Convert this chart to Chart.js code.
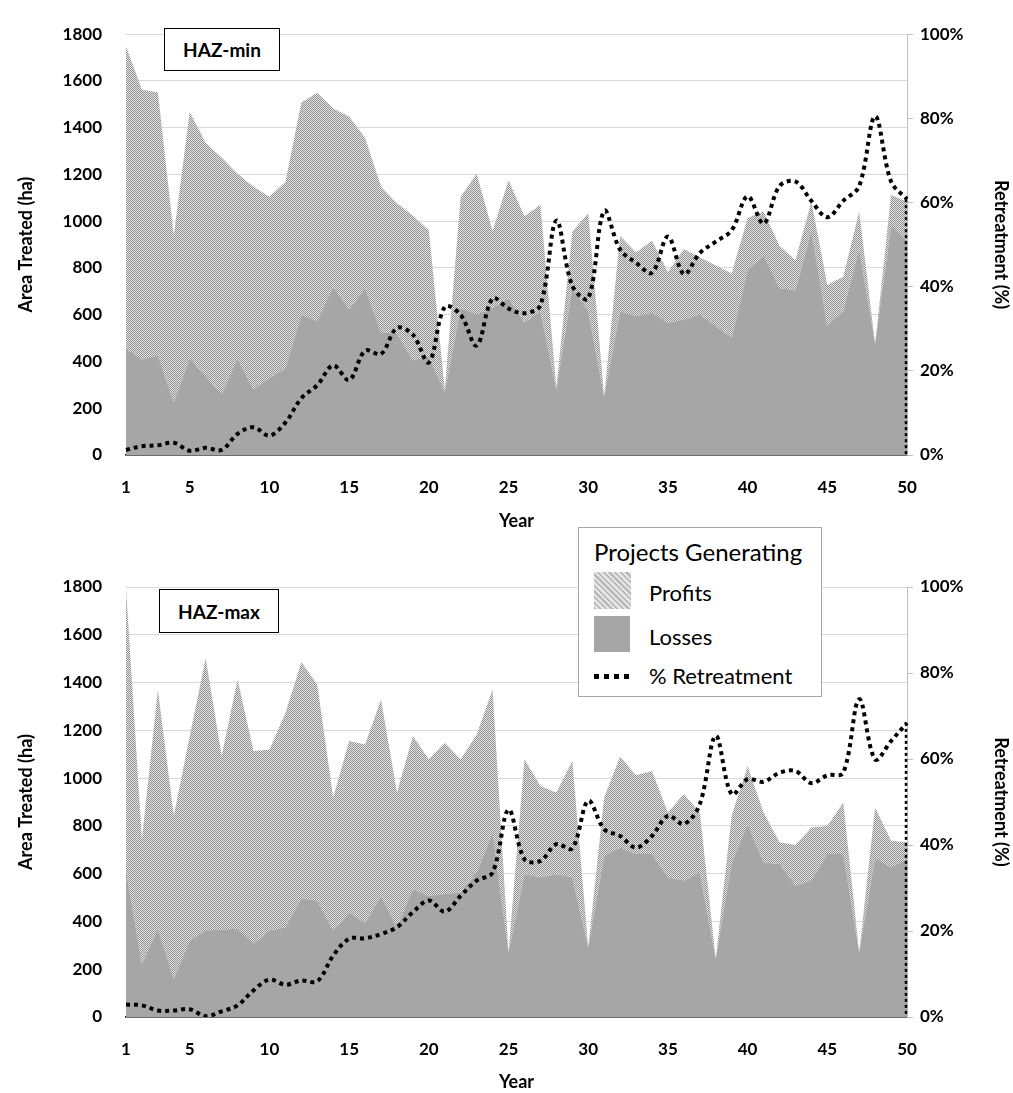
<!DOCTYPE html>
<html>
<head>
<meta charset="utf-8">
<script src="https://cdn.jsdelivr.net/npm/chart.js@4/dist/chart.umd.min.js"></script>
<style>
  body { margin: 0; background: #fff; font-family: Lato, sans-serif; overflow: hidden; }
  #wrap { position: relative; width: 1013px; height: 1093px; }
  canvas { position: absolute; left: 0; }
  .haz { position: absolute; border: 1.5px solid #000; background: #fff; font-weight: bold; font-size: 19px;
         display: flex; align-items: center; justify-content: center; box-sizing: border-box; }
  #legend { position: absolute; left: 578px; top: 527px; width: 244px; height: 170px; box-sizing: border-box;
            border: 1.5px solid #a6a6a6; background: #fff; }
  #legend div { position: absolute; white-space: nowrap; }
  .lbl { font-size: 22px; line-height: 26px; color: #000; }
</style>
</head>
<body>
<div id="wrap">
  <canvas id="chartMin" width="1013" height="540" style="top:0"></canvas>
  <canvas id="chartMax" width="1013" height="553" style="top:540px"></canvas>
  <div class="haz" style="left:164px; top:28px; width:116px; height:43px;">HAZ-min</div>
  <div class="haz" style="left:159px; top:589px; width:120px; height:44px;">HAZ-max</div>
  <div id="legend">
    <div style="left:15px; top:9px; font-size:24px; line-height:30px;">Projects Generating</div>
    <div style="left:15px; top:44px; width:37px; height:37px; background:repeating-linear-gradient(45deg, #b5b5b5 0 1.5px, #e4e4e4 1.5px 4px);"></div>
    <div class="lbl" style="left:70px; top:52px;">Profits</div>
    <div style="left:15px; top:88px; width:36px; height:36px; background:#a6a6a6;"></div>
    <div class="lbl" style="left:70px; top:96px;">Losses</div>
    <div style="left:15px; top:146px; width:37px; height:5px; background:repeating-linear-gradient(90deg, #000 0 5px, transparent 5px 10px);"></div>
    <div class="lbl" style="left:70px; top:135px;">% Retreatment</div>
  </div>
</div>
<script>
const years = Array.from({length: 50}, (_, i) => String(i + 1));
const areaTicks = [0, 200, 400, 600, 800, 1000, 1200, 1400, 1600, 1800];
const pctTicks = [0, 20, 40, 60, 80, 100];

// HAZ-min (ha, ha, %)
const minLosses = [455,408,427,227,413,336,259,413,280,329,371,599,573,720,622,713,524,520,405,420,
                   270,629,601,629,671,566,615,280,713,615,250,615,594,608,566,580,601,552,503,790,
                   853,713,706,958,552,615,881,476,979,916];
const minProfits = [1293,1154,1125,713,1055,999,1014,790,867,776,797,909,977,762,826,644,623,557,619,540,
                    10,476,602,329,504,455,455,10,241,420,0,322,273,308,217,301,245,259,273,224,
                    189,182,126,126,175,147,161,0,133,168];
const minRetreat = [1.2,2.1,2.3,2.9,1.0,1.7,1.2,5.0,6.6,4.6,7.7,13.5,16.6,21.3,17.8,24.8,24.0,30.2,28.6,22.0,
                    35.2,33.3,26.0,37.2,34.8,33.7,35.6,55.7,40.2,37.2,58.0,48.8,45.7,43.3,51.9,43.0,48.0,50.7,53.4,61.5,
                    55.0,63.9,65.0,60.4,56.5,60.4,63.9,80.5,65.0,60.8];

// HAZ-max
const maxLosses = [612,223,369,160,320,362,366,369,306,362,376,497,487,362,436,394,505,376,536,508,
                   515,522,605,772,271,598,585,598,585,292,675,710,682,682,585,571,605,244,647,807,
                   647,640,550,571,682,682,271,668,626,661];
const maxProfits = [1183,522,1002,682,856,1141,727,1044,807,758,897,988,905,557,719,747,824,564,640,571,
                    633,557,578,599,0,481,382,342,487,0,244,380,330,348,271,362,251,0,195,244,
                    209,91,170,222,118,216,0,209,112,70];
const maxRetreat = [2.9,2.7,1.5,1.5,1.8,0.2,1.3,2.7,6.2,8.7,7.5,8.5,8.3,14.3,18.2,18.3,19.3,20.9,24.4,27.1,
                    24.5,28.2,31.7,33.6,48.2,36.7,36.3,40.2,39.2,50.3,43.7,42.1,39.4,42.1,46.8,44.9,49.5,65.4,51.8,55.3,
                    54.7,56.8,57.2,54.4,56.2,56.8,73.9,59.9,64.2,68.4];

// motif pointillé pour la zone "Profits"
function makePattern() {
    const c = document.createElement('canvas');
    c.width = 2; c.height = 2;
    const g = c.getContext('2d');
    g.fillStyle = '#e6e6e6'; g.fillRect(0, 0, 2, 2);
    g.fillStyle = '#8f8f8f'; g.fillRect(0, 0, 1, 1); g.fillRect(1, 1, 1, 1);
    return g.createPattern(c, 'repeat');
}
const hatch = makePattern();

// trait pointillé vertical à la fin de la série
const endLine = {
    id: 'endLine',
    afterDatasetsDraw(chart) {
        const pts = chart.getDatasetMeta(0).data;
        const last = pts[pts.length - 1];
        const ctx = chart.ctx;
        ctx.save();
        ctx.strokeStyle = '#000';
        ctx.lineWidth = 2.5;
        ctx.setLineDash([3, 3]);
        ctx.beginPath();
        ctx.moveTo(last.x - 1, last.y);
        ctx.lineTo(last.x - 1, chart.chartArea.bottom);
        ctx.stroke();
        ctx.restore();
    }
};

const tickFont = { family: 'Lato', size: 17, weight: 'bold' };
const titleFont = { family: 'Lato', size: 18, weight: 'bold' };

function makeChart(id, losses, profits, retreat, topPad, xHeight, yearPad) {
    const ctx = document.getElementById(id).getContext('2d');
    return new Chart(ctx, {
        type: 'line',
        data: {
            labels: years,
            datasets: [{
                label: '% Retreatment',
                data: retreat,
                yAxisID: 'y1',
                borderColor: '#000',
                borderWidth: 4,
                borderDash: [4, 4],
                borderCapStyle: 'butt',
                pointRadius: 0,
                tension: 0.35,
                fill: false
            }, {
                label: 'Losses',
                data: losses,
                yAxisID: 'y',
                backgroundColor: '#a6a6a6',
                borderWidth: 0,
                pointRadius: 0,
                fill: 'origin'
            }, {
                label: 'Profits',
                data: profits,
                yAxisID: 'y',
                backgroundColor: hatch,
                borderWidth: 0,
                pointRadius: 0,
                fill: '-1'
            }]
        },
        options: {
            responsive: false,
            animation: false,
            layout: { padding: { top: topPad, left: 0, right: 0, bottom: 0 } },
            plugins: { legend: { display: false }, tooltip: { enabled: false } },
            scales: {
                x: {
                    grid: { display: false, drawTicks: false },
                    border: { display: true, color: '#000', width: 1.5, dash: [4, 3] },
                    ticks: {
                        font: tickFont, color: '#000', autoSkip: false, maxRotation: 0, padding: 22,
                        callback: (v, i) => (i === 0 || (i + 1) % 5 === 0) ? years[i] : ''
                    },
                    title: { display: true, text: 'Year', font: titleFont, color: '#000', padding: { top: 0, bottom: yearPad } },
                    afterFit: s => { s.height = xHeight; }
                },
                y: {
                    stacked: true,
                    min: 0, max: 1800,
                    afterBuildTicks: s => { s.ticks = areaTicks.map(v => ({ value: v })); },
                    grid: { color: '#d9d9d9', drawTicks: false },
                    border: { display: false },
                    ticks: { font: tickFont, color: '#000', padding: 24, callback: v => String(v) },
                    title: { display: true, text: 'Area Treated (ha)', font: titleFont, color: '#000', padding: { top: 15, bottom: 0 } },
                    afterFit: s => { s.width = 126; }
                },
                y1: {
                    position: 'right',
                    min: 0, max: 100,
                    afterBuildTicks: s => { s.ticks = pctTicks.map(v => ({ value: v })); },
                    grid: { drawOnChartArea: false, drawTicks: true, tickLength: 6, color: '#bfbfbf' },
                    border: { display: true, color: '#bfbfbf' },
                    ticks: { font: tickFont, color: '#000', padding: 7, callback: v => v + '%' },
                    title: { display: true, text: 'Retreatment (%)', font: titleFont, color: '#000', padding: { top: 1, bottom: 0 } },
                    afterFit: s => { s.width = 106; }
                }
            }
        },
        plugins: [endLine]
    });
}

makeChart('chartMin', minLosses, minProfits, minRetreat, 26, 85, 8);
makeChart('chartMax', maxLosses, maxProfits, maxRetreat, 47, 76, 0);
</script>
</body>
</html>
